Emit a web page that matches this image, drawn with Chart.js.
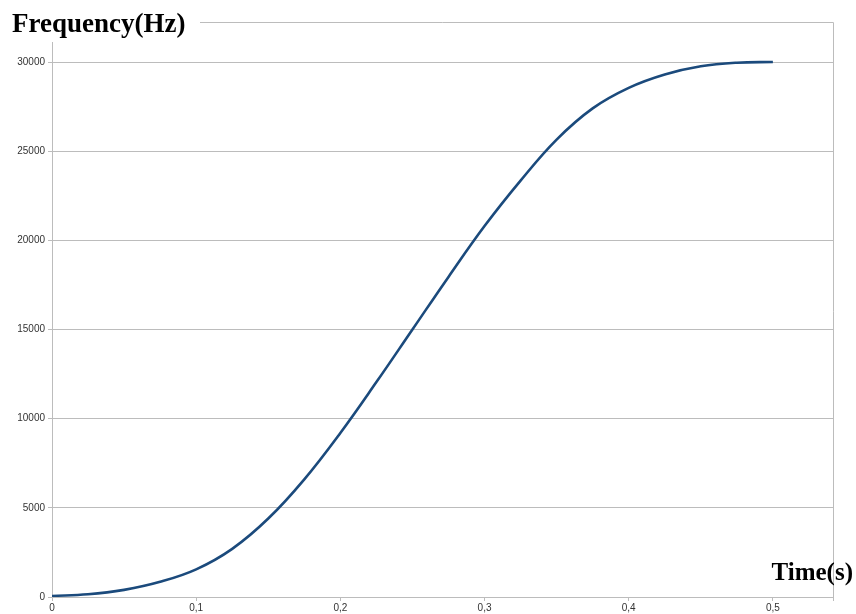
<!DOCTYPE html>
<html lang="en">
<head>
    <meta charset="UTF-8">
    <title>Frequency sweep</title>
    <script src="https://cdn.jsdelivr.net/npm/chart.js"></script>
    <style>
        html, body { margin: 0; padding: 0; background: #fff; }
        canvas { display: block; }
    </style>
</head>
<body>
    <canvas id="sweepChart" width="856" height="614"></canvas>
    <script>
        // values
        const times = [0, 0.025, 0.05, 0.075, 0.1, 0.125, 0.15, 0.175, 0.2, 0.225, 0.25,
                       0.275, 0.3, 0.325, 0.35, 0.375, 0.4, 0.425, 0.45, 0.475, 0.5];
        const freqs = [60, 150, 400, 850, 1550, 2700, 4400, 6600, 9200, 12050, 15000,
                       17950, 20800, 23350, 25650, 27400, 28550, 29300, 29760, 29960, 30000];
        const xTicks = [0, 0.1, 0.2, 0.3, 0.4, 0.5];
        const yTicks = [0, 5000, 10000, 15000, 20000, 25000, 30000];

        const gridColor = '#bcbcbc';

        // top/right frame plus the two axis titles
        const frameAndTitles = {
            id: 'frameAndTitles',
            afterDraw(chart) {
                const { ctx, chartArea } = chart;
                ctx.save();
                ctx.strokeStyle = gridColor;
                ctx.lineWidth = 1;
                ctx.beginPath();
                ctx.moveTo(chartArea.left, chartArea.top + 0.5);
                ctx.lineTo(chartArea.right + 0.5, chartArea.top + 0.5);
                ctx.lineTo(chartArea.right + 0.5, chartArea.bottom + 4);
                ctx.stroke();

                ctx.fillStyle = '#fff';
                ctx.fillRect(0, 0, 200, 42);
                ctx.fillStyle = '#000';
                ctx.textBaseline = 'alphabetic';
                ctx.textAlign = 'left';
                ctx.font = 'bold 27px "Liberation Serif"';
                ctx.fillText('Frequency(Hz)', 12, 32);
                ctx.textAlign = 'right';
                ctx.font = 'bold 25px "Liberation Serif"';
                ctx.fillText('Time(s)', 853, 580);
                ctx.restore();
            }
        };

        const sweepChart = new Chart(document.getElementById('sweepChart'), {
            type: 'scatter',
            data: {
                datasets: [{
                    data: times.map((t, i) => ({ x: t, y: freqs[i] })),
                    showLine: true,
                    borderColor: '#1b4a7c',
                    borderWidth: 2.6,
                    pointRadius: 0,
                    tension: 0.4
                }]
            },
            options: {
                responsive: false,
                devicePixelRatio: 1,
                animation: false,
                layout: { padding: { top: 22, right: 23, left: 0, bottom: 0 } },
                plugins: { legend: { display: false }, tooltip: { enabled: false } },
                scales: {
                    x: {
                        type: 'linear',
                        min: 0,
                        max: 0.5417,
                        afterBuildTicks: s => { s.ticks = xTicks.map(v => ({ value: v })); },
                        afterFit: s => { s.height = 17; },
                        grid: { drawOnChartArea: false, color: gridColor, tickLength: 4 },
                        border: { color: gridColor },
                        ticks: {
                            padding: 1,
                            maxRotation: 0,
                            color: '#333',
                            font: { family: 'Liberation Sans', size: 10 },
                            callback: v => String(v).replace('.', ',')
                        }
                    },
                    y: {
                        min: 0,
                        max: 32243,
                        afterBuildTicks: s => { s.ticks = yTicks.map(v => ({ value: v })); },
                        afterFit: s => { s.width = 52; },
                        grid: { color: gridColor, tickLength: 4 },
                        border: { color: gridColor },
                        ticks: {
                            padding: 3,
                            color: '#333',
                            font: { family: 'Liberation Sans', size: 10 },
                            callback: v => String(v)
                        }
                    }
                }
            },
            plugins: [frameAndTitles]
        });
    </script>
</body>
</html>
